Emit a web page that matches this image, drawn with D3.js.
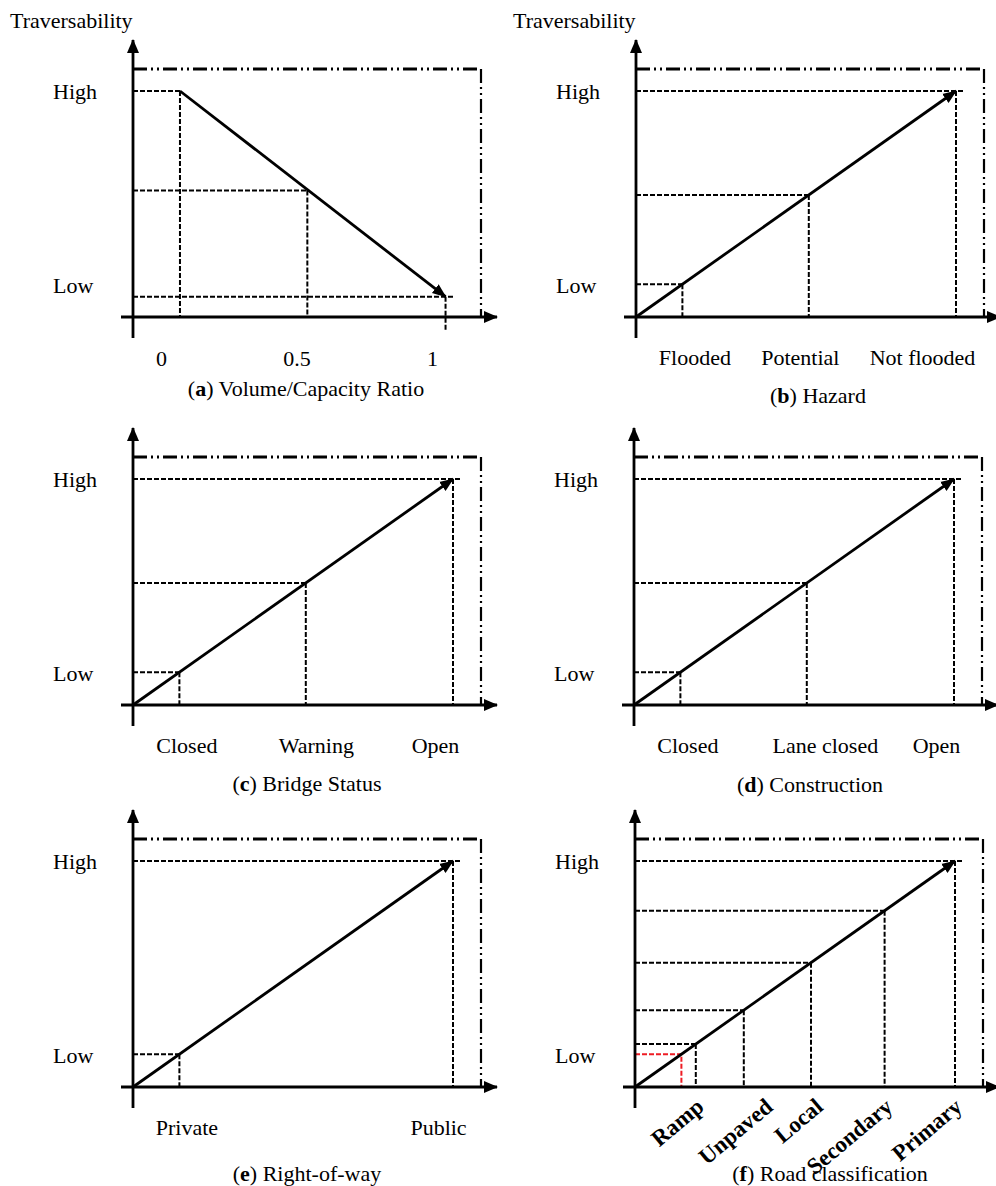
<!DOCTYPE html>
<html>
<head>
<meta charset="utf-8">
<script src="https://cdn.jsdelivr.net/npm/d3@7"></script>
<style>
  body { margin: 0; background: #fff; }
  svg { display: block; background: #fff; font-family: "Liberation Serif", "Times New Roman", serif; }
</style>
</head>
<body>
<svg width="996" height="1186"></svg>
<script>
  // y axis levels (shared by all panels)
  const levelTicks = [0.14, 1];
  const levelLabels = ['Low', 'High'];

  // (a) volume / capacity ratio
  const vcTicks = [0, 0.5, 1];
  const vcRatio = [0.07, 0.54, 1.05];
  const vcTraversability = [1, 0.56, 0.09];

  // (b) hazard
  const hazardCats = ['Flooded', 'Potential', 'Not flooded'];
  const hazardScores = [0.145, 0.54, 1];

  // (c) bridge status
  const bridgeCats = ['Closed', 'Warning', 'Open'];
  const bridgeScores = [0.145, 0.54, 1];

  // (d) construction
  const constructionCats = ['Closed', 'Lane closed', 'Open'];
  const constructionScores = [0.145, 0.54, 1];

  // (e) right-of-way
  const rowCats = ['Private', 'Public'];
  const rowScores = [0.145, 1];

  // (f) road classification
  const roadCats = ['Ramp', 'Unpaved', 'Local', 'Secondary', 'Primary'];
  const roadScores = [0.19, 0.34, 0.55, 0.78, 1];
  const roadLowScore = 0.145;

  const svg = d3.select('svg');
  const W = 320, H = 226;
  const fontSize = 22;
  const red = '#ee1c24';

  const panels = [
    { key: 'a', ox: 133, oy: 317, title: 'Volume/Capacity Ratio', yTitle: true, capDx: 173, capDy: 79 },
    { key: 'b', ox: 636, oy: 317, title: 'Hazard', cats: hazardCats, scores: hazardScores, nudge: [12, -9, -34], yTitle: true, capDx: 182, capDy: 86 },
    { key: 'c', ox: 133, oy: 705, title: 'Bridge Status', cats: bridgeCats, scores: bridgeScores, nudge: [7, 10, -18], capDx: 174, capDy: 86 },
    { key: 'd', ox: 634, oy: 705, title: 'Construction', cats: constructionCats, scores: constructionScores, nudge: [7, 18, -18], capDx: 176, capDy: 87 },
    { key: 'e', ox: 133, oy: 1087, title: 'Right-of-way', cats: rowCats, scores: rowScores, nudge: [7, -15], capDx: 174, capDy: 94 },
    { key: 'f', ox: 635, oy: 1087, title: 'Road classification', cats: roadCats, scores: roadScores, nudge: [9, 30, 13, 9, 8], rotate: true, capDx: 195, capDy: 94 }
  ];

  const defs = svg.append('defs');
  defs.append('marker')
      .attr('id', 'axis-head')
      .attr('markerUnits', 'userSpaceOnUse')
      .attr('viewBox', '0 -7 14 14')
      .attr('refX', 13).attr('refY', 0)
      .attr('markerWidth', 14).attr('markerHeight', 14)
      .attr('orient', 'auto')
    .append('path').attr('d', 'M0,-6L14,0L0,6Z').attr('fill', '#000');
  defs.append('marker')
      .attr('id', 'line-head')
      .attr('markerUnits', 'userSpaceOnUse')
      .attr('viewBox', '0 -7 14 14')
      .attr('refX', 13).attr('refY', 0)
      .attr('markerWidth', 14).attr('markerHeight', 14)
      .attr('orient', 'auto')
    .append('path').attr('d', 'M0,-5.5L14,0L0,5.5Z').attr('fill', '#000');

  const dashed = (sel, color) => sel
    .attr('stroke', color || '#000')
    .attr('stroke-width', 2)
    .attr('stroke-dasharray', '5,2')
    .attr('fill', 'none');

  const styleAxisG = axisG => {
    axisG.select('.domain').remove();
    axisG.attr('font-family', null).attr('font-size', fontSize).attr('fill', null);
    axisG.selectAll('text').attr('fill', '#000');
  };

  panels.forEach(p => {
    const g = svg.append('g').attr('transform', `translate(${p.ox},${p.oy})`);
    const x = d3.scaleLinear().domain([0, 1]).range([0, W]);
    const y = d3.scaleLinear().domain([0, 1]).range([0, -H]);

    // dash-dot-dot frame
    g.append('path')
      .attr('d', 'M0,-248H348')
      .attr('fill', 'none').attr('stroke', '#000').attr('stroke-width', 3)
      .attr('stroke-dasharray', '14,4,2,4,2,4');
    g.append('path')
      .attr('d', 'M348,-248V0')
      .attr('fill', 'none').attr('stroke', '#000').attr('stroke-width', 2.2)
      .attr('stroke-dasharray', '14,4,2,4,2,4');

    let pts, start, lastExtH = 7, lastExtV = 0;
    if (p.key === 'a') {
      const vc = d3.scaleLinear().domain([0, 1]).range([28, 299]);
      pts = vcRatio.map((v, i) => [vc(v), y(vcTraversability[i])]);
      start = pts[0];
      lastExtH = 9; lastExtV = 13;

      const xAxisG = g.append('g')
        .call(d3.axisBottom(vc).tickValues(vcTicks).tickFormat(d3.format('')).tickSize(0));
      styleAxisG(xAxisG);
      xAxisG.selectAll('text').attr('y', 49).attr('dy', null);
    } else {
      pts = p.scores.map(s => [x(s), y(s)]);
      start = [x(0), y(0)];

      const xAxisG = g.append('g')
        .call(d3.axisBottom(x).tickValues(p.scores).tickFormat((d, i) => p.cats[i]).tickSize(0));
      styleAxisG(xAxisG);
      if (p.rotate) {
        xAxisG.selectAll('text')
          .attr('x', null).attr('y', null).attr('dy', null)
          .attr('text-anchor', 'end')
          .attr('font-weight', 'bold')
          .attr('font-size', 23)
          .attr('transform', (d, i) => `translate(${p.nudge[i]},22) rotate(-40)`);
      } else {
        xAxisG.selectAll('text')
          .attr('y', 48).attr('dy', null)
          .attr('x', (d, i) => p.nudge[i]);
      }
    }

    const n = pts.length;
    // horizontal guides
    g.selectAll('.hguide').data(pts).enter().append('line')
        .attr('class', 'hguide')
        .attr('x1', 0)
        .attr('x2', (d, i) => d[0] + (i === n - 1 ? lastExtH : 0))
        .attr('y1', d => d[1]).attr('y2', d => d[1])
        .call(dashed);
    // vertical guides
    g.selectAll('.vguide').data(pts).enter().append('line')
        .attr('class', 'vguide')
        .attr('x1', d => d[0]).attr('x2', d => d[0])
        .attr('y1', d => d[1])
        .attr('y2', (d, i) => i === n - 1 ? lastExtV : 0)
        .call(dashed);

    if (p.key === 'f') {
      const lx = x(roadLowScore), ly = y(roadLowScore);
      g.append('path').attr('d', `M0,${ly}H${lx}V0`).call(dashed, red);
    }

    // main trend line
    const end = pts[n - 1];
    g.append('line')
      .attr('x1', start[0]).attr('y1', start[1])
      .attr('x2', end[0]).attr('y2', end[1])
      .attr('stroke', '#000').attr('stroke-width', 2.8)
      .attr('marker-end', 'url(#line-head)');

    // axes with arrows
    g.append('line')
      .attr('x1', -12).attr('x2', 364).attr('y1', 0).attr('y2', 0)
      .attr('stroke', '#000').attr('stroke-width', 2.8)
      .attr('marker-end', 'url(#axis-head)');
    g.append('line')
      .attr('x1', 0).attr('x2', 0).attr('y1', 21).attr('y2', -277)
      .attr('stroke', '#000').attr('stroke-width', 2.8)
      .attr('marker-end', 'url(#axis-head)');

    // Low / High labels
    const yAxisG = g.append('g')
      .call(d3.axisLeft(y).tickValues(levelTicks).tickFormat((d, i) => levelLabels[i]).tickSize(0));
    styleAxisG(yAxisG);
    yAxisG.selectAll('text').attr('x', -80).attr('text-anchor', 'start');

    if (p.yTitle) {
      g.append('text')
        .attr('x', -123).attr('y', -289)
        .attr('font-size', fontSize)
        .text('Traversability');
    }

    const cap = g.append('text')
      .attr('x', p.capDx).attr('y', p.capDy)
      .attr('text-anchor', 'middle')
      .attr('font-size', fontSize);
    cap.append('tspan').text('(');
    cap.append('tspan').attr('font-weight', 'bold').text(p.key);
    cap.append('tspan').text(') ' + p.title);
  });
</script>
</body>
</html>
